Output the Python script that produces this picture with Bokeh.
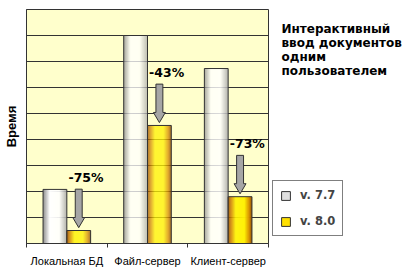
import numpy as np
from bokeh.plotting import figure
from bokeh.layouts import row
from bokeh.models import FixedTicker, Label, Legend, LegendItem, Range1d
from bokeh.core.properties import value
from bokeh.embed import file_html
from bokeh.resources import INLINE

categories = ["Локальная БД", "Файл-сервер", "Клиент-сервер"]
v77 = [2.08, 8.0, 6.73]
v80 = [0.5, 4.54, 1.8]
changes = ["-75%", "-43%", "-73%"]
series_names = ["v. 7.7", "v. 8.0"]
title_lines = ["Интерактивный", "ввод документов", "одним", "пользователем"]

BAR_W = 0.295
DARK = "#333333"

p = figure(width=269, height=269, output_backend="svg", toolbar_location=None,
           x_range=Range1d(0, 3), y_range=Range1d(0, 9),
           min_border_left=23, min_border_right=1, min_border_top=9,
           min_border_bottom=26)
p.background_fill_color = "#FFFFCC"
p.border_fill_color = "white"
p.outline_line_color = DARK
p.outline_line_width = 1
p.xgrid.visible = False
p.ygrid.ticker = FixedTicker(ticks=list(range(1, 9)))
p.ygrid.grid_line_color = DARK
p.ygrid.grid_line_alpha = 1.0

# x axis
xa = p.xaxis[0]
xa.ticker = FixedTicker(ticks=[0.5, 1.5, 2.5], minor_ticks=[0, 1, 2, 3])
xa.major_label_overrides = {0.5: categories[0], 1.5: categories[1], 2.5: categories[2]}
xa.major_tick_line_color = None
xa.minor_tick_in = 0
xa.minor_tick_out = 4
xa.minor_tick_line_color = DARK
xa.axis_line_color = DARK
xa.major_label_text_font = "Liberation Sans"
xa.major_label_text_font_size = "11px"
xa.major_label_text_color = "black"
xa.major_label_standoff = 5

# y axis
ya = p.yaxis[0]
ya.ticker = FixedTicker(ticks=[])
ya.major_tick_line_color = None
ya.minor_tick_line_color = None
ya.major_label_text_font_size = "0px"
ya.major_label_standoff = 0
ya.major_tick_out = 0
ya.axis_line_color = DARK
ya.axis_label = "Время"
ya.axis_label_text_font = "Liberation Sans"
ya.axis_label_text_font_style = "bold"
ya.axis_label_text_font_size = "13px"
ya.axis_label_text_color = "black"
ya.axis_label_standoff = 8


def hex2rgb(h):
    h = h.lstrip("#")
    return np.array([int(h[i:i + 2], 16) for i in (0, 2, 4)], dtype=float)


def gradient(stops, n):
    ts = np.array([s[0] for s in stops])
    cols = np.array([hex2rgb(s[1]) for s in stops])
    out = []
    for k in range(n):
        t = (k + 0.5) / n
        c = [np.interp(t, ts, cols[:, j]) for j in range(3)]
        out.append("#%02x%02x%02x" % tuple(int(round(v)) for v in c))
    return out


white_stops = [(0.0, "#8a8a8a"), (0.28, "#ffffff"), (0.68, "#ffffff"), (1.0, "#a8a8a8")]
yellow_stops = [(0.0, "#8c4a00"), (0.12, "#d08000"), (0.32, "#fff200"),
                (0.68, "#fff200"), (0.88, "#d89000"), (1.0, "#8c4a00")]

centers = np.arange(len(categories)) + 0.5
N = 24


def draw_series(fig, vals, left_edges, stops):
    cols = gradient(stops, N)
    L, R, T, C = [], [], [], []
    for i, v in enumerate(vals):
        for k in range(N):
            L.append(left_edges[i] + BAR_W * k / N)
            R.append(left_edges[i] + BAR_W * (k + 1) / N)
            T.append(v)
            C.append(cols[k])
    fig.quad(left=L, right=R, bottom=0, top=T, fill_color=C, line_color=None)
    fig.quad(left=left_edges, right=left_edges + BAR_W, bottom=0, top=vals,
             fill_color=None, line_color=DARK, line_width=1)


draw_series(p, np.array(v77), centers - BAR_W, white_stops)
draw_series(p, np.array(v80), centers, yellow_stops)

# arrows
SW, HW = 0.043, 0.074
HEAD, LEN, GAP = 0.39, 1.48, 0.11
xs, ys = [], []
for i, v in enumerate(v80):
    xc = centers[i] + BAR_W / 2
    tip = v + GAP
    top = tip + LEN
    hb = tip + HEAD
    xs.append([xc - SW, xc + SW, xc + SW, xc + HW, xc, xc - HW, xc - SW])
    ys.append([top, top, hb, hb, tip, hb, hb])
p.patches(xs, ys, fill_color="#a6a6a6", line_color=DARK, line_width=1)

tx = [centers[i] + BAR_W / 2 + 0.09 for i in range(len(v80))]
ty = [v + GAP + LEN + 0.17 for v in v80]
p.text(x=tx, y=ty, text=changes, text_align="center", text_baseline="bottom",
       text_font=value("DejaVu Sans"), text_font_size="12.5px",
       text_font_style="bold", text_color="black")

# right-hand panel: title block and legend (frame aligned with the chart frame)
q = figure(width=141, height=269, output_backend="svg", toolbar_location=None,
           x_range=Range1d(0, 141), y_range=Range1d(0, 234),
           x_axis_location=None, y_axis_location=None,
           min_border_left=0, min_border_right=0,
           min_border_top=9, min_border_bottom=26)
q.grid.visible = False
q.outline_line_color = None
q.background_fill_color = "white"
q.border_fill_color = "white"

for j, line in enumerate(title_lines):
    q.add_layout(Label(x=12, y=215 - j * 14, x_units="screen", y_units="screen",
                       text=line, text_font="DejaVu Sans", text_font_style="bold",
                       text_font_size="12px", text_color="black",
                       text_baseline="alphabetic"))

g77 = q.quad(left=[-20], right=[-10], bottom=[-20], top=[-10], fill_color="#e0e0e0",
             line_color=DARK)
g80 = q.quad(left=[-20], right=[-10], bottom=[-20], top=[-10], fill_color="#ffe000",
             line_color=DARK)

legend = Legend(items=[LegendItem(label=series_names[0], renderers=[g77]),
                       LegendItem(label=series_names[1], renderers=[g80])],
                location=(3, 7))
legend.border_line_color = "black"
legend.border_line_width = 1
legend.background_fill_color = "white"
legend.background_fill_alpha = 1.0
legend.label_text_font = "DejaVu Sans"
legend.label_text_font_style = "bold"
legend.label_text_font_size = "11.5px"
legend.glyph_width = 11
legend.glyph_height = 11
legend.label_height = 11
legend.label_standoff = 9
legend.spacing = 12
legend.padding = 7
legend.margin = 0
q.add_layout(legend)

layout = row(p, q)
open("out.html", "w").write(file_html(layout, INLINE))
